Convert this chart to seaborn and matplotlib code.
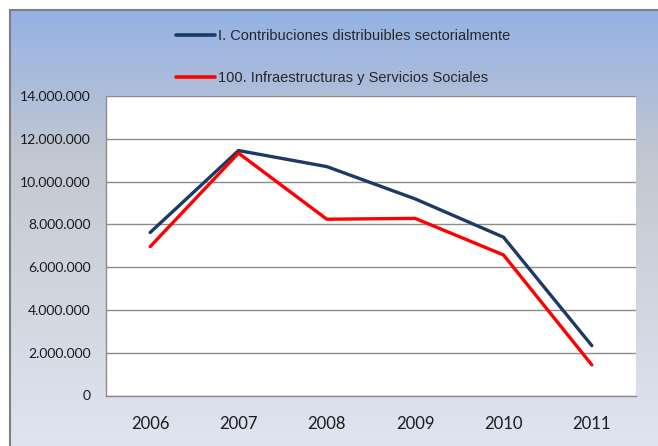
import numpy as np
import pandas as pd
import matplotlib
matplotlib.use("Agg")
import matplotlib.pyplot as plt
import seaborn as sns
from matplotlib.colors import LinearSegmentedColormap
from matplotlib.ticker import FuncFormatter
from matplotlib.lines import Line2D

years = [2006, 2007, 2008, 2009, 2010, 2011]
contribuciones = [7620000, 11450000, 10700000, 9190000, 7400000, 2330000]
infraestructuras = [6960000, 11330000, 8240000, 8280000, 6570000, 1430000]
series_names = ["I. Contribuciones distribuibles sectorialmente",
                "100. Infraestructuras y Servicios Sociales"]
y_ticks = [0, 2000000, 4000000, 6000000, 8000000, 10000000, 12000000, 14000000]

df = pd.DataFrame({
    "year": years * 2,
    "value": contribuciones + infraestructuras,
    "serie": [series_names[0]] * len(years) + [series_names[1]] * len(years),
})

sns.set_theme(style="white")
plt.rcParams["font.family"] = ["Lato", "DejaVu Sans"]

W, H = 658, 446
fig = plt.figure(figsize=(W / 100, H / 100), dpi=100)
fig.patch.set_facecolor("white")

# gradient chart-area background
bg = fig.add_axes([10 / W, 0, 1 - 10 / W, 1 - 10 / H])
cmap = LinearSegmentedColormap.from_list(
    "bg", [(0.0, "#95b2e5"), (0.35, "#c3c8d0"), (1.0, "#dfe4f1")])
grad = np.linspace(0, 1, 256).reshape(-1, 1)
bg.imshow(grad, aspect="auto", cmap=cmap, extent=[0, 1, 0, 1], origin="upper")
bg.set_xticks([]); bg.set_yticks([])
for s in ["right", "bottom"]:
    bg.spines[s].set_visible(False)
for s in ["left", "top"]:
    bg.spines[s].set_color("#7f7f7f")
    bg.spines[s].set_linewidth(1.5)

ax = fig.add_axes([106 / W, (H - 395.5) / H, 530 / W, 299.5 / H])
ax.set_facecolor("white")
sns.lineplot(data=df, x="year", y="value", hue="serie", ax=ax,
             palette=["#1c3a63", "#ff0000"], linewidth=2.4, legend=False)

ax.set_xlim(2005.5, 2011.5)
ax.set_ylim(0, 14000000)
ax.set_xticks(years)
ax.set_xticklabels([str(y) for y in years], fontsize=12, color="#1a1a1a")
ax.set_yticks(y_ticks)
ax.yaxis.set_major_formatter(FuncFormatter(lambda v, p: f"{int(v):,}".replace(",", ".")))
ax.tick_params(axis="y", labelsize=10, length=0, pad=11, labelcolor="#1a1a1a")
ax.tick_params(axis="x", length=0, pad=15)
ax.yaxis.grid(True, color="#8c8c8c", linewidth=1)
ax.set_axisbelow(True)
ax.set_xlabel("")
ax.set_ylabel("")
for s in ["top", "right"]:
    ax.spines[s].set_visible(False)
for s in ["left", "bottom"]:
    ax.spines[s].set_color("#8c8c8c")
    ax.spines[s].set_linewidth(1)

handles = [Line2D([], [], color="#1c3a63", linewidth=2.6),
           Line2D([], [], color="#ff0000", linewidth=2.6)]
fig.legend(handles, series_names, loc="center left",
           bbox_to_anchor=(176 / W, 1 - 57 / H), frameon=False,
           borderpad=0, borderaxespad=0, handlelength=2.7, handletextpad=0.15,
           labelspacing=1.9,
           prop={"family": ["Liberation Sans Narrow", "Liberation Sans"], "size": 10.5})

fig.savefig("out.png", dpi=100)
